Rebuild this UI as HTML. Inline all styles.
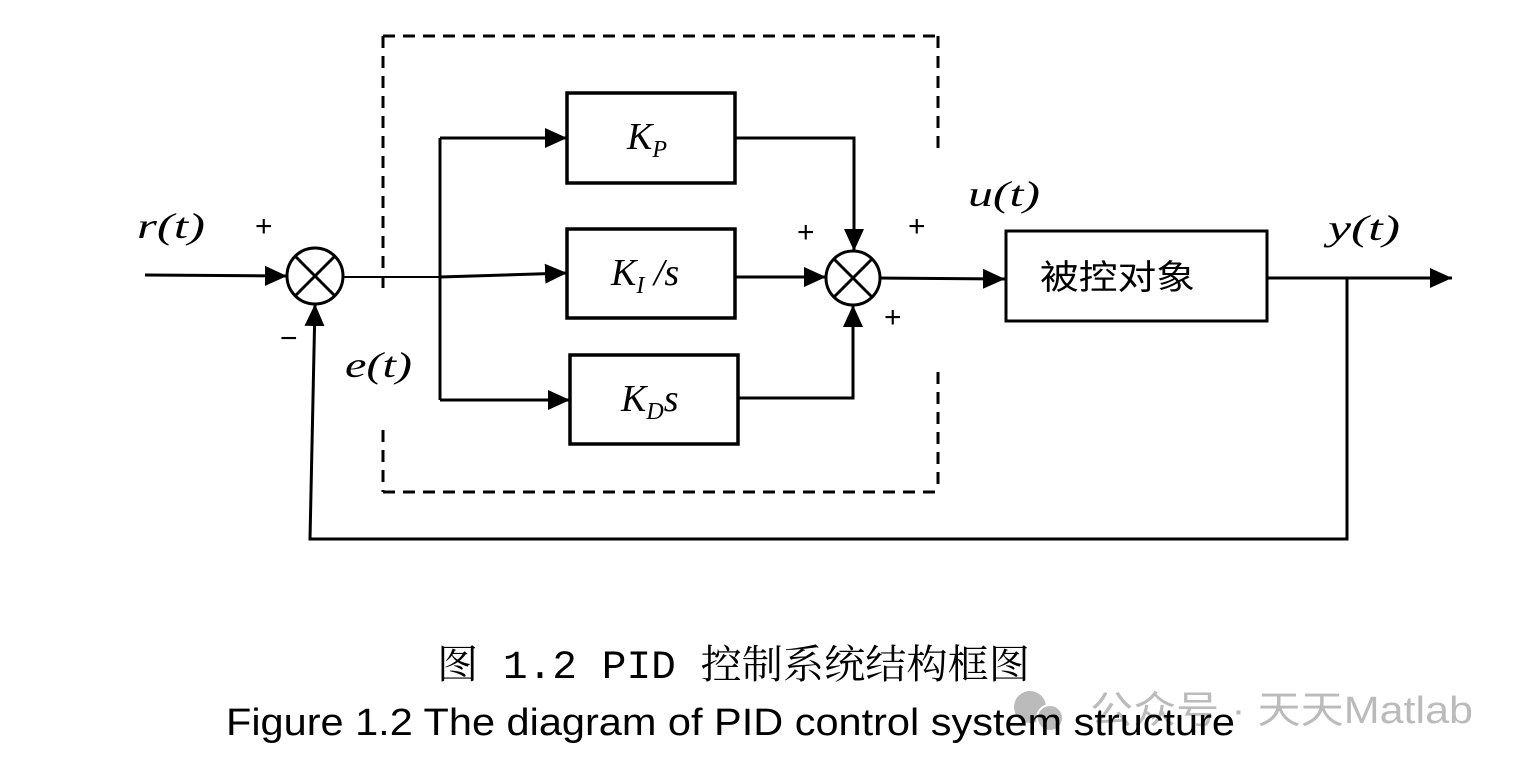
<!DOCTYPE html>
<html><head><meta charset="utf-8"><style>
html,body{margin:0;padding:0;background:#fff;width:1521px;height:770px;overflow:hidden}
svg text{font-family:"Liberation Serif","Noto Serif CJK SC",serif}
</style></head><body>
<svg width="1521" height="770" viewBox="0 0 1521 770" xmlns="http://www.w3.org/2000/svg">
<defs>
<marker id="a" markerWidth="24" markerHeight="20" refX="22" refY="10" orient="auto" markerUnits="userSpaceOnUse">
<path d="M0,0 L22,10 L0,20 Z" fill="#000"/></marker>
</defs>
<g stroke="#000" stroke-width="3" fill="none">
<g stroke-dasharray="12,8">
<line x1="383" y1="36" x2="938" y2="36"/>
<line x1="383" y1="492" x2="938" y2="492"/>
<line x1="383" y1="36" x2="383" y2="290"/>
<line x1="383" y1="430" x2="383" y2="492"/>
<line x1="938" y1="36" x2="938" y2="152"/>
<line x1="938" y1="372" x2="938" y2="492"/>
</g>
<line x1="145" y1="275" x2="287" y2="276" marker-end="url(#a)"/>
<circle cx="315" cy="276" r="28"/>
<line x1="295" y1="256" x2="335" y2="296"/><line x1="335" y1="256" x2="295" y2="296"/>
<line x1="343" y1="277" x2="440" y2="277" stroke-width="2"/>
<line x1="440" y1="138" x2="440" y2="400"/>
<line x1="440" y1="138" x2="567" y2="138" marker-end="url(#a)"/>
<line x1="440" y1="277" x2="567" y2="273" marker-end="url(#a)"/>
<line x1="440" y1="400" x2="570" y2="400" marker-end="url(#a)"/>
<rect x="567" y="93" width="168" height="90" stroke-width="3.5"/>
<rect x="567" y="229" width="168" height="89" stroke-width="3.5"/>
<rect x="570" y="355" width="168" height="89" stroke-width="3.5"/>
<circle cx="853" cy="278" r="27"/>
<line x1="834" y1="259" x2="872" y2="297"/><line x1="872" y1="259" x2="834" y2="297"/>
<polyline points="735,138 854,138 854,251" marker-end="url(#a)"/>
<line x1="735" y1="277" x2="826" y2="277" marker-end="url(#a)"/>
<polyline points="738,398 853,398 853,305" marker-end="url(#a)"/>
<line x1="880" y1="278" x2="1005" y2="279" marker-end="url(#a)"/>
<rect x="1006" y="231" width="261" height="90"/>
<line x1="1267" y1="278" x2="1452" y2="278" marker-end="url(#a)"/>
<polyline points="1347,278 1347,539 310,539 315,304" marker-end="url(#a)"/>
</g>
<g font-style="italic" font-size="36">
<text x="137" y="238" textLength="68" lengthAdjust="spacingAndGlyphs">r(t)</text>
<text x="345" y="377" textLength="67" lengthAdjust="spacingAndGlyphs">e(t)</text>
<text x="968" y="206" textLength="72" lengthAdjust="spacingAndGlyphs">u(t)</text>
<text x="1328" y="240" textLength="72" lengthAdjust="spacingAndGlyphs">y(t)</text>
<text x="627" y="149" font-size="38">K<tspan font-size="24" dy="8">P</tspan></text>
<text x="611" y="285" font-size="38">K<tspan font-size="24" dy="8">I</tspan><tspan dy="-8"> /s</tspan></text>
<text x="621" y="411" font-size="38">K<tspan font-size="24" dy="8">D</tspan><tspan dy="-8">s</tspan></text>
</g>
<g font-size="30" style="font-family:'Liberation Sans',sans-serif">
<text x="255" y="236" style="font-family:'Liberation Sans',sans-serif">+</text>
<text x="280" y="348" style="font-family:'Liberation Sans',sans-serif">−</text>
<text x="797" y="242" style="font-family:'Liberation Sans',sans-serif">+</text>
<text x="908" y="236" style="font-family:'Liberation Sans',sans-serif">+</text>
<text x="884" y="327" style="font-family:'Liberation Sans',sans-serif">+</text>
</g>
<text x="1040" y="289" font-size="34" textLength="155" lengthAdjust="spacingAndGlyphs" style="font-family:'Liberation Sans','Noto Sans CJK SC',sans-serif">被控对象</text>
<text x="437" y="678" font-size="40" textLength="593" lengthAdjust="spacingAndGlyphs" style="font-family:'Liberation Mono','Noto Serif CJK SC',serif">图 1.2 PID 控制系统结构框图</text>
<g fill="#bbb">
<circle cx="1030" cy="707" r="16"/><circle cx="1050" cy="718" r="13" stroke="#fff" stroke-width="2"/>
<text x="1090" y="723" font-size="38" textLength="383" lengthAdjust="spacingAndGlyphs" style="font-family:'Liberation Sans','Noto Sans CJK SC',sans-serif">公众号 · 天天Matlab</text>
</g>
<text x="226" y="735" font-size="38" textLength="1009" lengthAdjust="spacingAndGlyphs" style="font-family:'Liberation Sans',sans-serif">Figure 1.2 The diagram of PID control system structure</text>
</svg>
</body></html>
